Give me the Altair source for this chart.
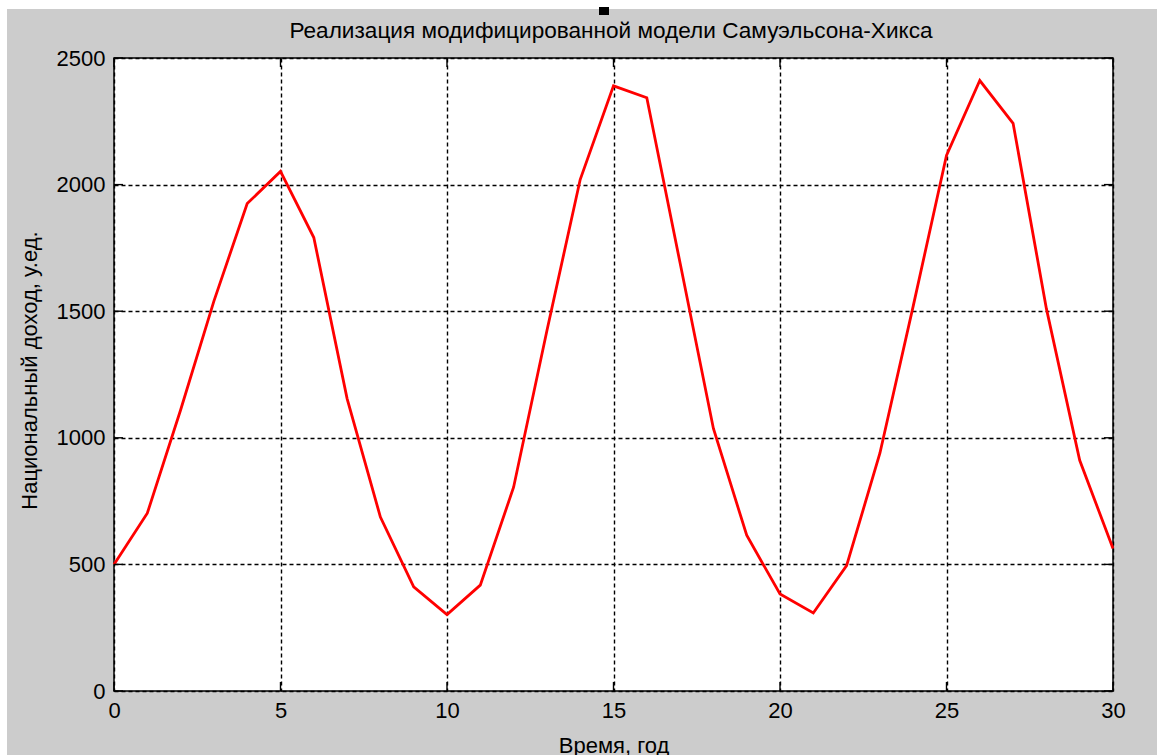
import altair as alt
import pandas as pd

# Data
years = list(range(31))
income = [500, 702, 1110, 1540, 1925, 2052, 1791, 1155, 687, 411, 302,
          418, 805, 1423, 2020, 2390, 2343, 1690, 1037, 615, 383,
          308, 495, 939, 1520, 2115, 2411, 2242, 1510, 911, 563]
x_ticks = [0, 5, 10, 15, 20, 25, 30]
y_ticks = [0, 500, 1000, 1500, 2000, 2500]

title_text = "Реализация модифицированной модели Самуэльсона-Хикса"
x_title = "Время, год"
y_title = "Национальный доход, у.ед."

W, H = 999, 633
FONT = "Liberation Sans"

df = pd.DataFrame({"t": years, "y": income})
xt = pd.DataFrame({"t": x_ticks})
yt = pd.DataFrame({"y": y_ticks})
one = pd.DataFrame({"label": [title_text]})

xscale = alt.Scale(domain=[0, 30], nice=False, zero=False)
yscale = alt.Scale(domain=[0, 2500], nice=False)

x_axis = alt.Axis(values=x_ticks, title=x_title, grid=True, ticks=False, domain=False,
                  labelPadding=9, labelFlush=False, format="d",
                  titleY=61, titleBaseline="alphabetic")
y_axis = alt.Axis(values=y_ticks, title=y_title, grid=True, ticks=False, domain=False,
                  labelPadding=9, labelFlush=False, format="d",
                  titleX=-78, titleY=312, titleBaseline="alphabetic", titleAngle=270)

line = alt.Chart(df).mark_line(color="#ff0000", strokeWidth=2.8).encode(
    x=alt.X("t:Q", scale=xscale, axis=x_axis),
    y=alt.Y("y:Q", scale=yscale, axis=y_axis),
)

tick_style = dict(color="black", strokeWidth=1.4)
tick_bottom = alt.Chart(xt).mark_rule(**tick_style).encode(
    x=alt.X("t:Q", scale=xscale), y=alt.value(H), y2=alt.value(H - 9))
tick_top = alt.Chart(xt).mark_rule(**tick_style).encode(
    x=alt.X("t:Q", scale=xscale), y=alt.value(0), y2=alt.value(9))
tick_left = alt.Chart(yt).mark_rule(**tick_style).encode(
    y=alt.Y("y:Q", scale=yscale), x=alt.value(0), x2=alt.value(9))
tick_right = alt.Chart(yt).mark_rule(**tick_style).encode(
    y=alt.Y("y:Q", scale=yscale), x=alt.value(W), x2=alt.value(W - 9))

# white strips at the top and left of the screenshot, plus the small black square
strip_top = alt.Chart(one).mark_rect(color="white").encode(
    x=alt.value(-114), x2=alt.value(W + 44), y=alt.value(-58), y2=alt.value(-49))
strip_left = alt.Chart(one).mark_rect(color="white").encode(
    x=alt.value(-114), x2=alt.value(-107), y=alt.value(-58), y2=alt.value(H + 64))
black_sq = alt.Chart(one).mark_rect(color="black").encode(
    x=alt.value(485), x2=alt.value(495), y=alt.value(-51), y2=alt.value(-43))

title = alt.Chart(one).mark_text(
    font=FONT, fontSize=22.6, color="black", align="center", baseline="alphabetic"
).encode(text="label:N", x=alt.value(497), y=alt.value(-20))

chart = alt.layer(
    strip_top, strip_left, black_sq, title,
    line, tick_bottom, tick_top, tick_left, tick_right,
).properties(
    width=W, height=H,
    autosize=alt.AutoSizeParams(type="none"),
    padding={"left": 114, "top": 58, "right": 44, "bottom": 64},
    background="#cccccc",
).configure_view(
    fill="white", stroke="black", strokeWidth=1.5,
).configure_axis(
    labelFont=FONT, labelFontSize=22, labelColor="black",
    titleFont=FONT, titleFontSize=22, titleFontWeight="normal", titleColor="black",
    gridColor="black", gridDash=[4, 3], gridWidth=1.4, gridOpacity=1,
)

chart.save("out.html", embed_options={"renderer": "svg", "actions": False})
